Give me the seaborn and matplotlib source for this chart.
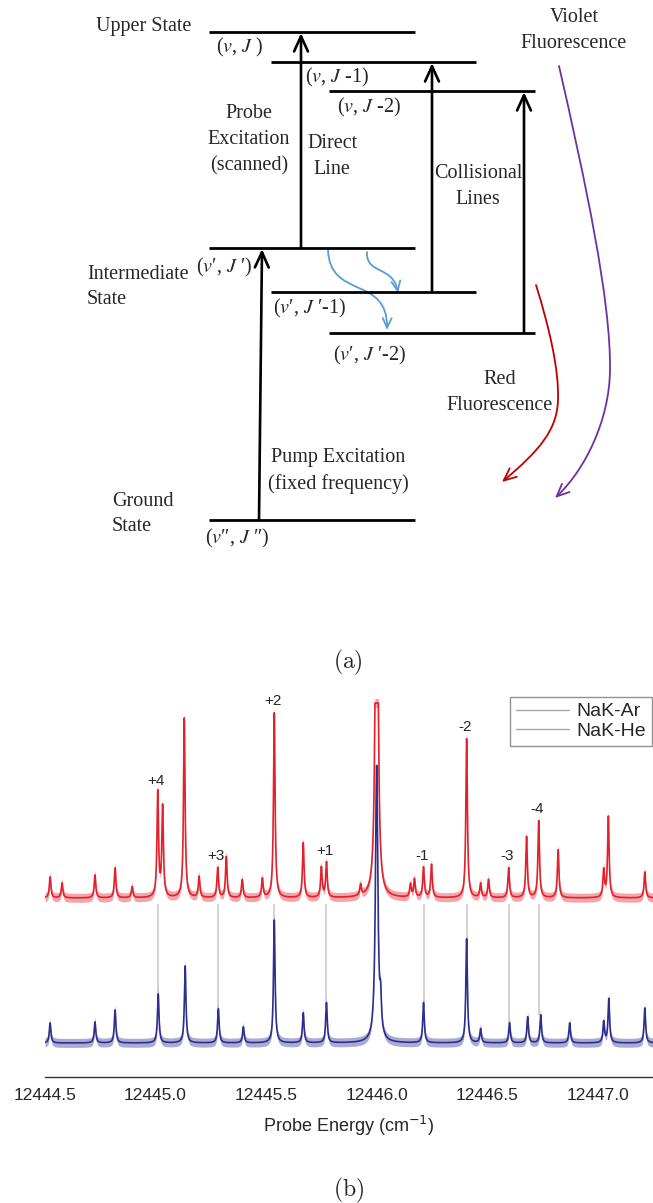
import numpy as np
import pandas as pd
import matplotlib
matplotlib.use("Agg")
import matplotlib.pyplot as plt
import seaborn as sns
from matplotlib.patches import FancyArrowPatch
from matplotlib.path import Path
from matplotlib.lines import Line2D

sns.set_style("white")
plt.rcParams['font.family'] = ['Liberation Serif', 'DejaVu Serif']

# ---------------- (a) energy-level diagram (pixel coordinates) ----------------
level_x0 = [209, 271, 329, 209, 271, 329, 209]
level_x1 = [415, 476, 535, 415, 476, 535, 415]
level_y = [32, 62, 91, 248, 292, 333, 520]

level_labels = ["($v$, $J$ )", "($v$, $J$ -1)", "($v$, $J$ -2)",
                "($v$\u2032, $J$ \u2032)", "($v$\u2032, $J$ \u2032-1)", "($v$\u2032, $J$ \u2032-2)",
                "($v$\u2033, $J$ \u2033)"]
level_label_x = [240, 337, 369, 224, 309, 369, 237]
level_label_y = [47, 77, 107, 267, 308, 355, 538]

arrow_x0 = [301, 432, 524, 259]
arrow_y0 = [248, 292, 333, 520]
arrow_x1 = [301, 432, 524, 262]
arrow_y1 = [33, 63, 92, 249]

diagram_texts = ["Upper State", "Probe\nExcitation\n(scanned)", "Direct\nLine",
                 "Collisional\nLines", "Violet\nFluorescence", "Red\nFluorescence",
                 "Pump Excitation\n(fixed frequency)"]
diagram_text_x = [144, 249, 332, 478, 574, 500, 338]
diagram_text_y = [26, 140, 156, 186, 30, 393, 471]
left_texts = ["Intermediate\nState", "Ground\nState"]
left_text_x = [87, 112]
left_text_y = [287, 514]

# ---------------- (b) spectrum data ----------------
ar_peak_energy = [12444.523, 12444.577, 12444.726, 12444.817, 12444.894, 12445.010,
                  12445.032, 12445.130, 12445.197, 12445.281, 12445.320, 12445.392,
                  12445.483, 12445.537, 12445.668, 12445.750, 12445.773, 12445.927,
                  12446.000, 12446.153, 12446.171, 12446.212, 12446.248, 12446.407,
                  12446.470, 12446.506, 12446.597, 12446.678, 12446.733, 12446.821,
                  12447.027, 12447.048, 12447.213]
ar_peak_height = [21, 15, 23, 30, 11, 105, 90, 180, 21, 30, 41, 18, 19, 185, 55, 30, 35,
                  11, 600, 13, 18, 30, 33, 159, 14, 18, 30, 61, 77, 48, 27, 81, 26]
ar_saturation = 195

he_peak_energy = [12444.523, 12444.726, 12444.817, 12445.012, 12445.134, 12445.284,
                  12445.397, 12445.537, 12445.668, 12445.773, 12446.000, 12446.018,
                  12446.212, 12446.407, 12446.470, 12446.601, 12446.683, 12446.742,
                  12446.873, 12447.027, 12447.050, 12447.213]
he_peak_height = [20, 21, 33, 49, 77, 34, 16, 123, 30, 40, 276, 30, 40, 104, 14, 20, 26,
                  28, 20, 21, 44, 35]

ar_offset = 179
he_offset = 34

trans_labels = ["+4", "+3", "+2", "+1", "-1", "-2", "-3", "-4"]
trans_energy = [12445.011, 12445.283, 12445.537, 12445.773, 12446.212, 12446.407,
                12446.599, 12446.736]

tick_major = [12444.5, 12445.0, 12445.5, 12446.0, 12446.5, 12447.0]
tick_minor = [12444.75, 12445.25, 12445.75, 12446.25, 12446.75, 12447.25]


def spectrum(x, energies, heights, center_w, w=0.0042):
    y = np.zeros_like(x)
    for e, h in zip(energies, heights):
        ww = center_w if abs(e - 12446.0) < 1e-6 else w
        y += h / (1.0 + ((x - e) / ww) ** 2)
    return y


xgrid = np.linspace(12444.5, 12447.25, 8000)
ar = np.minimum(spectrum(xgrid, ar_peak_energy, ar_peak_height, 0.0055), ar_saturation) + ar_offset
he = spectrum(xgrid, he_peak_energy, he_peak_height, 0.0065) + he_offset
df = pd.DataFrame({"energy": xgrid, "NaK-Ar": ar, "NaK-He": he})

# ---------------- figure ----------------
fig = plt.figure(figsize=(6.53, 12.03), dpi=100)
ax0 = fig.add_axes([0, 0, 1, 1])
ax0.set_xlim(0, 653)
ax0.set_ylim(1203, 0)
ax0.axis("off")

for x0, x1, y in zip(level_x0, level_x1, level_y):
    ax0.plot([x0, x1], [y, y], color="black", lw=2.0, solid_capstyle="butt")

for xa, ya, xb, yb in zip(arrow_x0, arrow_y0, arrow_x1, arrow_y1):
    ax0.add_patch(FancyArrowPatch((xa, ya), (xb, yb), arrowstyle="->,head_length=1.1,head_width=0.5",
                                  mutation_scale=10, lw=1.9, color="black",
                                  shrinkA=0, shrinkB=0))

for t, x, y in zip(level_labels, level_label_x, level_label_y):
    ax0.text(x, y, t, ha="center", va="center", fontsize=14.5, math_fontfamily="stix")

for t, x, y in zip(diagram_texts, diagram_text_x, diagram_text_y):
    ax0.text(x, y, t, ha="center", va="center", fontsize=14.5, linespacing=1.5,
             multialignment="center")
for t, x, y in zip(left_texts, left_text_x, left_text_y):
    ax0.text(x, y, t, ha="left", va="center", fontsize=14.5, linespacing=1.4,
             multialignment="left")


def curve(verts, color, hl=0.7, hw=0.32):
    codes = [Path.MOVETO] + [Path.CURVE4] * (len(verts) - 1)
    p = Path(verts, codes)
    ax0.add_patch(FancyArrowPatch(path=p, arrowstyle=f"->,head_length={hl},head_width={hw}",
                                  mutation_scale=10, lw=1.3, color=color))


curve([(328, 250), (330, 300), (388, 275), (387, 330)], "#5B9BD5")
curve([(367, 252), (366, 275), (393, 265), (398, 293)], "#5B9BD5")
curve([(559, 66), (585, 180), (611, 300), (610, 370), (609.5, 420), (585, 470), (555, 498)],
      "#7030A0", 0.9, 0.4)
curve([(536, 285), (550, 330), (559, 370), (558, 400), (557, 430), (540, 450), (502, 482)],
      "#C00000", 0.9, 0.4)

fig.text(348 / 653, 1 - 662 / 1203, r"$\mathrm{(a)}$", ha="center", va="center",
         fontsize=17, math_fontfamily="cm")
fig.text(349 / 653, 1 - 1190 / 1203, r"$\mathrm{(b)}$", ha="center", va="center",
         fontsize=17, math_fontfamily="cm")

# spectrum axes
ax = fig.add_axes([45 / 653, (1203 - 1077) / 1203, 608 / 653, 387 / 1203])
ax.patch.set_alpha(0)
ax.set_xlim(12444.5, 12447.25)
ax.set_ylim(0, 387)

gray_lo = [he_offset + he_peak_height[int(np.argmin(np.abs(np.array(he_peak_energy) - e)))]
           for e in trans_energy]
ax.vlines(trans_energy, gray_lo, ar_offset - 6, color="#cfcfcf", lw=1.3, zorder=1)

red = "#E3202B"
blue = "#2B2F8F"
ax.fill_between(df["energy"], df["NaK-Ar"] - 4.5, df["NaK-Ar"] + 4.5, color=red, alpha=0.4, lw=0, zorder=2)
sns.lineplot(data=df, x="energy", y="NaK-Ar", color=red, lw=1.2, ax=ax, estimator=None,
             legend=False, zorder=3)
ax.fill_between(df["energy"], df["NaK-He"] - 4.5, df["NaK-He"] + 4.5, color=blue, alpha=0.4, lw=0, zorder=2)
sns.lineplot(data=df, x="energy", y="NaK-He", color=blue, lw=1.2, ax=ax, estimator=None,
             legend=False, zorder=3)

for e, lab in zip(trans_energy, trans_labels):
    h = ar_peak_height[int(np.argmin(np.abs(np.array(ar_peak_energy) - e)))]
    ax.text(e - 0.008, ar_offset + min(h, ar_saturation) + 5, lab, ha="center", va="bottom",
            fontsize=11, family="Liberation Sans")

for s in ["left", "top", "right"]:
    ax.spines[s].set_visible(False)
ax.spines["bottom"].set_color("#333333")
ax.spines["bottom"].set_linewidth(1.0)
ax.set_yticks([])
ax.set_xticks(tick_major)
ax.set_xticks(tick_minor, minor=True)
ax.set_xticklabels([f"{t:.1f}" for t in tick_major], fontsize=12.5, family="Liberation Sans")
ax.tick_params(axis="x", which="major", direction="out", length=5, width=1, color="#333333", pad=3)
ax.tick_params(axis="x", which="minor", direction="out", length=3, width=1, color="#333333")
ax.set_xlabel("Probe Energy (cm$^{-1}$)", fontsize=13, family="Liberation Sans", labelpad=8,
              math_fontfamily="dejavusans")
ax.set_ylabel("")

handles = [Line2D([0], [0], color="#a8a8a8", lw=1.0), Line2D([0], [0], color="#a8a8a8", lw=1.0)]
leg = ax.legend(handles, ["NaK-Ar", "NaK-He"], loc="upper right", bbox_to_anchor=(0.998, 0.982),
                borderaxespad=0, fancybox=False, handlelength=2.7, handletextpad=0.4,
                labelspacing=0.1, borderpad=0.3, prop={"family": "Liberation Sans", "size": 14})
leg.get_frame().set_edgecolor("#777777")
leg.get_frame().set_linewidth(1.0)

fig.savefig("out.png", dpi=100)
